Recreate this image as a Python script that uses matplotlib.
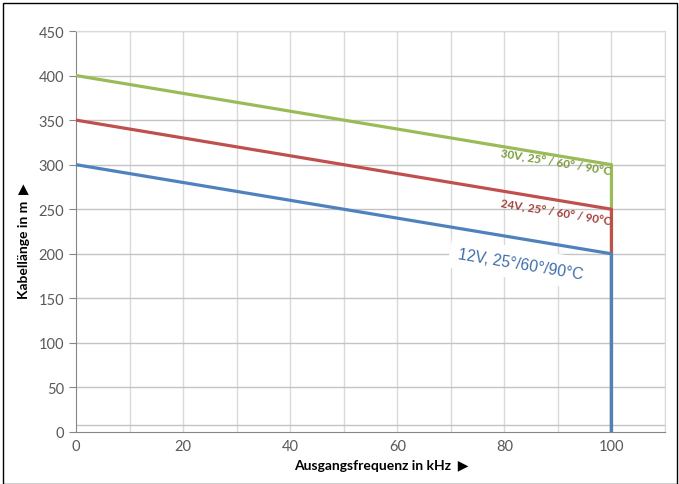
import matplotlib.pyplot as plt
import matplotlib.patches as patches

# Data
freq = [0, 100, 100]
len_30v = [400, 300, 0]
len_24v = [350, 250, 0]
len_12v = [300, 200, 0]

x_ticks = [0, 20, 40, 60, 80, 100]
y_ticks = [0, 50, 100, 150, 200, 250, 300, 350, 400, 450]

plt.rcParams['font.family'] = ['Lato', 'DejaVu Sans']

fig = plt.figure(figsize=(6.79, 4.85), dpi=100)
ax = fig.add_axes([76 / 679, 1 - 433 / 485, (665 - 76) / 679, (433 - 32) / 485])

# grid
for gx in range(10, 111, 10):
    ax.axvline(gx, color="#d9d9d9", lw=1, zorder=0)
for gy in y_ticks[1:]:
    ax.axhline(gy, color="#c4c4c4", lw=1, zorder=0)
ax.axhline(8, color="#c4c4c4", lw=1, zorder=0)

# lines
ax.plot(freq, len_30v, color="#9bbb59", lw=2.3, zorder=3)
ax.plot(freq, len_24v, color="#c0504d", lw=2.3, zorder=4)
ax.plot(freq, len_12v, color="#4f81bd", lw=2.3, zorder=5)

# labels on lines
ax.text(89.6, 304, "30V, 25° / 60° / 90°C", color="#7a9a3a", fontsize=8.4,
        fontweight="bold", rotation=-9.4, ha="center", va="center", zorder=6)
ax.text(89.6, 248, "24V, 25° / 60° / 90°C", color="#a3403d", fontsize=8.4,
        fontweight="bold", rotation=-9.4, ha="center", va="center", zorder=6)
ax.text(83, 189, "12V, 25°/60°/90°C", color="#3f6ea8", fontsize=11.3,
        family=["Liberation Sans", "DejaVu Sans"], rotation=-9.4,
        ha="center", va="center", zorder=4.5,
        bbox=dict(facecolor="white", edgecolor="none", pad=6))

ax.set_xlim(0, 110)
ax.set_ylim(0, 450)
ax.set_xticks(x_ticks)
ax.set_yticks(y_ticks)
ax.tick_params(axis="both", colors="#868686", labelcolor="#595959", labelsize=10.5, length=5)
ax.tick_params(axis="x", length=0, pad=5)

for side in ["top", "right"]:
    ax.spines[side].set_color("#d9d9d9")
for side in ["left", "bottom"]:
    ax.spines[side].set_color("#868686")

ax.set_xlabel("Ausgangsfrequenz in kHz  ▶", fontsize=10, fontweight="bold")
ax.set_ylabel("Kabellänge in m  ▶", fontsize=10, fontweight="bold")
ax.xaxis.set_label_coords(0.518, -0.068)
ax.yaxis.set_label_coords(-0.078, 0.479)

# outer frame
fig.patches.append(patches.Rectangle((3 / 679, 0), 674 / 679, 1 - 4 / 485,
                                     transform=fig.transFigure, fill=False,
                                     edgecolor="black", lw=1))

fig.savefig("out.png", dpi=100)
